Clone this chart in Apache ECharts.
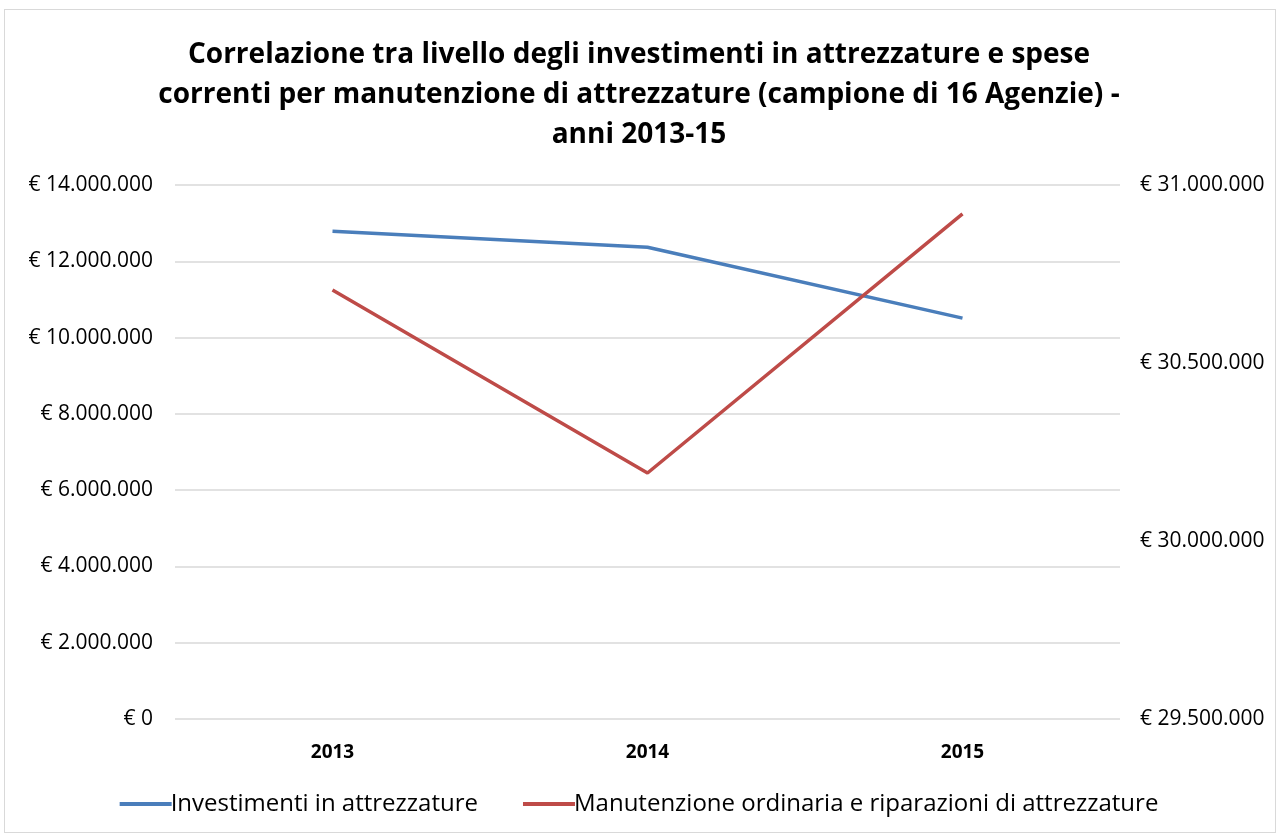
<!DOCTYPE html>
<html><head><meta charset="utf-8">
<script src="https://cdn.jsdelivr.net/npm/echarts@6/dist/echarts.min.js"></script>
<style>html,body{margin:0;padding:0;background:#fff}#c{width:1278px;height:839px}
#frame{position:absolute;left:4px;top:9px;width:1272px;height:824px;border:1px solid #d9d9d9;box-sizing:border-box;pointer-events:none}</style>
</head><body><div id="c"></div><div id="frame"></div>
<script>
const categories = ['2013', '2014', '2015'];
const investimenti = [12790000, 12370000, 10510000];
const manutenzione = [30705000, 30191000, 30919000];
const seriesNames = ['Investimenti in attrezzature', 'Manutenzione ordinaria e riparazioni di attrezzature'];
const titleText = 'Correlazione tra livello degli investimenti in attrezzature e spese\ncorrenti per manutenzione di attrezzature (campione di 16 Agenzie) -\nanni 2013-15';

const FONT = '"Open Sans", sans-serif';
function euro(v) {
  return '€ ' + String(Math.round(v)).replace(/\B(?=(\d{3})+(?!\d))/g, '.');
}
const chart = echarts.init(document.getElementById('c'));
chart.setOption({
  animation: false,
  title: {
    text: titleText, left: 'center', top: 30,
    textStyle: { fontFamily: FONT, fontSize: 28, fontWeight: 'bold', color: '#000', lineHeight: 40 }
  },
  legend: {
    bottom: 18, left: 'center', itemWidth: 52, itemHeight: 4, itemGap: 45,
    icon: 'rect',
    textStyle: { fontFamily: FONT, fontSize: 24, color: '#000', padding: [0,0,0,-6] },
    data: seriesNames
  },
  grid: { left: 175, right: 158, top: 185, bottom: 120 },
  xAxis: {
    type: 'category', data: categories, boundaryGap: true,
    axisLine: { show: false }, axisTick: { show: false },
    axisLabel: { fontFamily: FONT, fontSize: 19, fontWeight: 'bold', color: '#000', margin: 24 }
  },
  yAxis: [{
    type: 'value', min: 0, max: 14000000, interval: 2000000, position: 'left',
    axisLine: { show: false }, axisTick: { show: false },
    splitLine: { lineStyle: { color: '#d9d9d9', width: 1.5 } },
    axisLabel: { fontFamily: FONT, fontSize: 21, color: '#000', margin: 22, formatter: euro }
  }, {
    type: 'value', min: 29500000, max: 31000000, interval: 500000, position: 'right',
    axisLine: { show: false }, axisTick: { show: false }, splitLine: { show: false },
    axisLabel: { fontFamily: FONT, fontSize: 21, color: '#000', margin: 20, formatter: euro }
  }],
  series: [{
    name: seriesNames[0], type: 'line', yAxisIndex: 0, data: investimenti,
    symbol: 'none', lineStyle: { color: '#4a7ebb', width: 3.5 }, itemStyle: { color: '#4a7ebb' }
  }, {
    name: seriesNames[1], type: 'line', yAxisIndex: 1, data: manutenzione,
    symbol: 'none', lineStyle: { color: '#be4b48', width: 3.5 }, itemStyle: { color: '#be4b48' }
  }]
});
</script></body></html>
